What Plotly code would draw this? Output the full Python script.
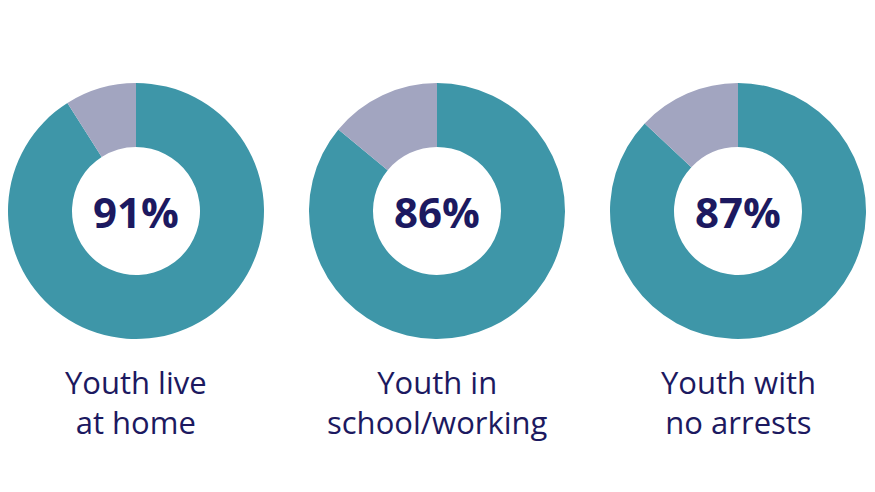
import plotly.graph_objects as go

labels = ["Youth live<br>at home", "Youth in<br>school/working", "Youth with<br>no arrests"]
pct_yes = [91, 86, 87]
pct_no = [9, 14, 13]

W, H = 875, 492
OFF = 8  # page body margin compensation
centers_px = [136 - OFF, 437 - OFF, 738 - OFF]
cy_px = 211 - OFF
r_px = 128
label_y_px = 402 - OFF

teal = "#3E96A8"
grey = "#A2A5C0"
navy = "#1C1960"

fig = go.Figure()
for i, (lab, a, b) in enumerate(zip(labels, pct_yes, pct_no)):
    cx = centers_px[i]
    fig.add_trace(go.Pie(
        values=[a, b],
        labels=["Yes", "No"],
        sort=False,
        direction="clockwise",
        rotation=0,
        hole=0.5,
        textinfo="none",
        hoverinfo="label+percent",
        marker=dict(colors=[teal, grey], line=dict(width=0)),
        domain=dict(x=[(cx - r_px) / W, (cx + r_px) / W],
                    y=[1 - (cy_px + r_px) / H, 1 - (cy_px - r_px) / H]),
        showlegend=False,
    ))
    fig.add_annotation(x=cx / W, y=1 - cy_px / H, xref="paper", yref="paper",
                       text=f"<b>{a}%</b>", showarrow=False,
                       font=dict(family="Open Sans", size=42, color=navy),
                       xanchor="center", yanchor="middle")
    fig.add_annotation(x=cx / W, y=1 - label_y_px / H, xref="paper", yref="paper",
                       text=lab, showarrow=False,
                       font=dict(family="Open Sans", size=31, color=navy),
                       xanchor="center", yanchor="middle", align="center")

fig.update_layout(width=W, height=H, margin=dict(l=0, r=0, t=0, b=0),
                  paper_bgcolor="white", plot_bgcolor="white")
fig.write_html("out.html")
